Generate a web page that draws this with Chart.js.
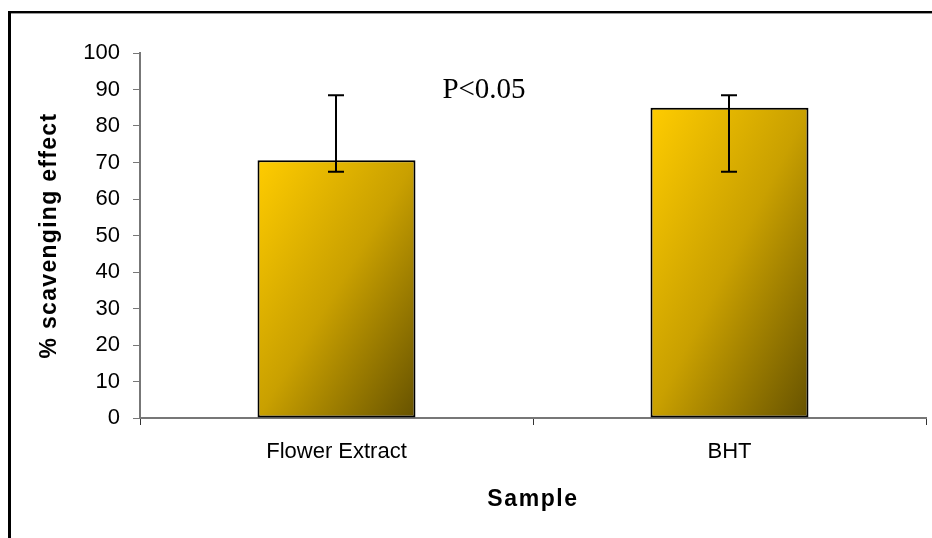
<!DOCTYPE html>
<html lang="en">

<head>
    <meta charset="UTF-8">
    <title>% scavenging effect</title>
    <script src="https://cdn.jsdelivr.net/npm/chart.js"></script>
    <style>
        html, body { margin: 0; padding: 0; background: #fff; }
        #wrap { width: 932px; height: 538px; }
    </style>
</head>

<body>
    <div id="wrap"><canvas id="chart"></canvas></div>

    <script>
        // Data
        const categories = ['Flower Extract', 'BHT'];
        const scavenging = [70.6, 85.0];
        const errLow = [67.5, 67.5];
        const errHigh = [88.4, 88.4];
        const yTicks = [0, 10, 20, 30, 40, 50, 60, 70, 80, 90, 100];
        const xTitle = 'Sample';
        const yTitle = '% scavenging effect';
        const note = 'P<0.05';

        const barPct = 0.402;

        // Diagonal gold gradient, light in the top-left, dark in the bottom-right
        function barGradient(context) {
            const chart = context.chart;
            if (!chart.chartArea) return '#FFCC00';
            const xs = chart.scales.x, ys = chart.scales.y;
            const cx = xs.getPixelForValue(context.dataIndex);
            const w = xs.width / categories.length * barPct;
            const left = cx - w / 2;
            const top = ys.getPixelForValue(context.raw);
            const h = ys.getPixelForValue(0) - top;
            const k = 2 * w * h / (h * h + w * w);
            const g = chart.ctx.createLinearGradient(left, top, left + h * k, top + w * k);
            g.addColorStop(0, '#FFCC00');
            g.addColorStop(0.5, '#C9A000');
            g.addColorStop(1, '#665200');
            return g;
        }

        // Outer frame of the picture
        const framePlugin = {
            id: 'frame',
            beforeDraw(chart) {
                const ctx = chart.ctx;
                ctx.save();
                ctx.fillStyle = '#fff';
                ctx.fillRect(0, 0, chart.width, chart.height);
                ctx.fillStyle = '#000';
                ctx.fillRect(9, 11, chart.width - 9, 2);
                ctx.fillRect(8, 11, 3, chart.height - 11);
                ctx.fillStyle = '#999';
                ctx.fillRect(11, 13, chart.width - 11, 1);
                ctx.restore();
            }
        };

        // Error bars, axis titles (a little spaced out like the original) and the P note
        const errorPlugin = {
            id: 'errors',
            afterDatasetsDraw(chart) {
                const ctx = chart.ctx;
                const xs = chart.scales.x, ys = chart.scales.y;
                ctx.save();
                ctx.strokeStyle = '#000';
                ctx.lineWidth = 2;
                categories.forEach((c, i) => {
                    const x = Math.round(xs.getPixelForValue(i)) - 1;
                    const yl = ys.getPixelForValue(errLow[i]);
                    const yh = ys.getPixelForValue(errHigh[i]);
                    ctx.beginPath();
                    ctx.moveTo(x, yl);
                    ctx.lineTo(x, yh);
                    ctx.moveTo(x - 8, yh);
                    ctx.lineTo(x + 8, yh);
                    ctx.moveTo(x - 8, yl);
                    ctx.lineTo(x + 8, yl);
                    ctx.stroke();
                });

                ctx.fillStyle = '#000';
                ctx.textAlign = 'center';
                ctx.textBaseline = 'middle';
                ctx.font = 'bold 23px "Liberation Sans", Arial, sans-serif';
                ctx.letterSpacing = '1.6px';
                ctx.fillText(xTitle, (xs.left + xs.right) / 2, 500);

                ctx.save();
                ctx.translate(50, (ys.top + ys.bottom) / 2);
                ctx.rotate(-Math.PI / 2);
                ctx.letterSpacing = '1.3px';
                ctx.fillText(yTitle, 0, 0);
                ctx.restore();

                ctx.letterSpacing = '0px';
                ctx.font = '29px "Liberation Serif", "Times New Roman", serif';
                ctx.textBaseline = 'alphabetic';
                ctx.fillText(note, xs.getPixelForValue(0.5) - 49, 98);
                ctx.restore();
            }
        };

        const tickFont = { family: '"Liberation Sans", Arial, sans-serif', size: 22 };

        new Chart(document.getElementById('chart'), {
            type: 'bar',
            data: {
                labels: categories,
                datasets: [{
                    label: yTitle,
                    data: scavenging,
                    backgroundColor: barGradient,
                    borderColor: '#000',
                    borderWidth: 2,
                    borderSkipped: false,
                    categoryPercentage: 1,
                    barPercentage: barPct
                }]
            },
            options: {
                responsive: true,
                maintainAspectRatio: false,
                animation: false,
                layout: { padding: { top: 53, right: 6, bottom: 0, left: 0 } },
                plugins: {
                    legend: { display: false },
                    tooltip: { enabled: false }
                },
                scales: {
                    x: {
                        grid: {
                            offset: true,
                            drawOnChartArea: false,
                            drawTicks: true,
                            tickLength: 7,
                            color: '#333',
                            lineWidth: 1
                        },
                        border: { color: '#777', width: 2 },
                        ticks: { color: '#000', font: tickFont, padding: 14 },
                        afterFit(scale) { scale.height = 120; }
                    },
                    y: {
                        min: 0,
                        max: 100,
                        afterBuildTicks(scale) {
                            scale.ticks = yTicks.map(v => ({ value: v }));
                        },
                        grid: {
                            drawOnChartArea: false,
                            drawTicks: true,
                            tickLength: 7,
                            color: '#777',
                            lineWidth: 1
                        },
                        border: { color: '#777', width: 2 },
                        ticks: { color: '#000', font: tickFont, padding: 13 },
                        afterFit(scale) { scale.width = 140; }
                    }
                }
            },
            plugins: [framePlugin, errorPlugin]
        });
    </script>
</body>

</html>
